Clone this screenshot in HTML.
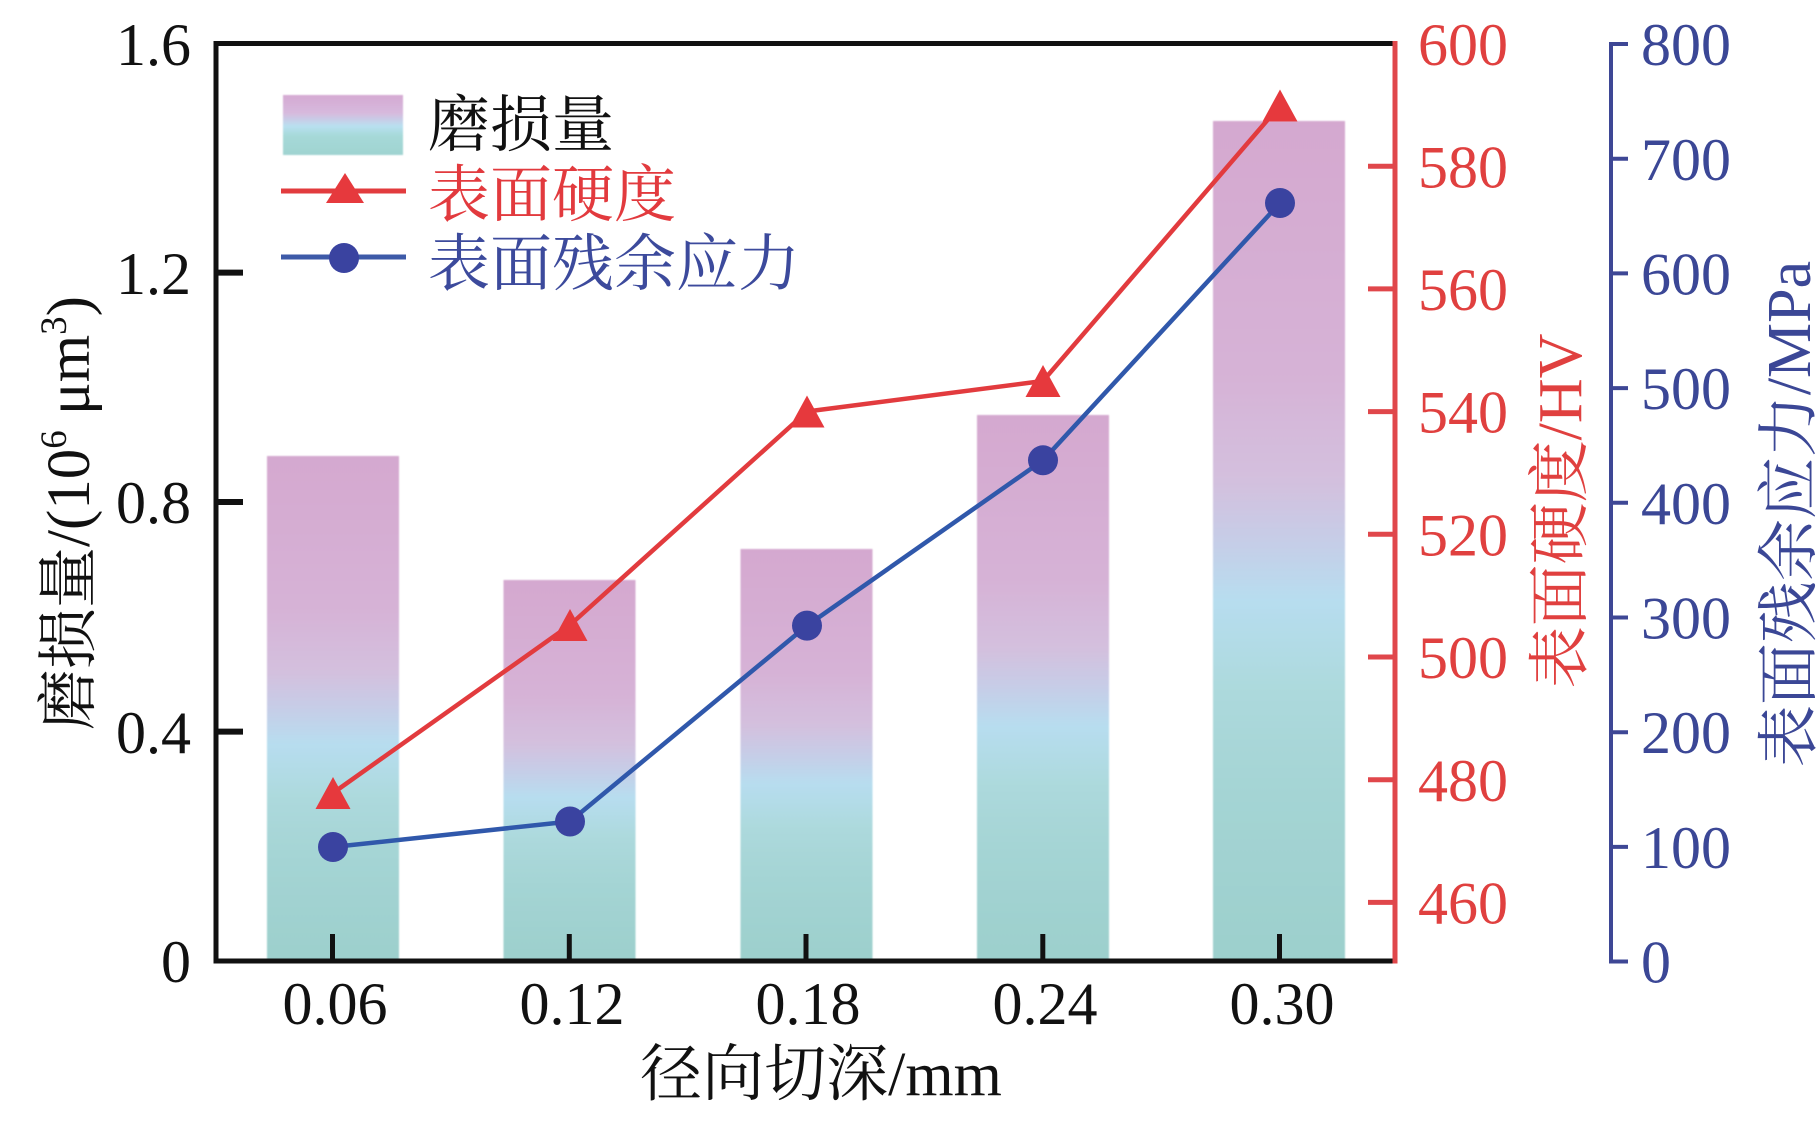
<!DOCTYPE html>
<html>
<head>
<meta charset="utf-8">
<style>
html,body{margin:0;padding:0;background:#fff;}
svg{display:block;}
text{font-family:"Liberation Serif","Noto Serif CJK SC",serif;}
</style>
</head>
<body>
<svg width="1819" height="1132" viewBox="0 0 1819 1132" xmlns="http://www.w3.org/2000/svg">
<defs>
<linearGradient id="bg" x1="0" y1="0" x2="0" y2="1">
<stop offset="0" stop-color="#d4a8cf"/>
<stop offset="0.3" stop-color="#d6b2d6"/>
<stop offset="0.43" stop-color="#d3c0de"/>
<stop offset="0.5" stop-color="#c6cde7"/>
<stop offset="0.57" stop-color="#b7ddef"/>
<stop offset="0.68" stop-color="#acd9dc"/>
<stop offset="0.8" stop-color="#a4d4d4"/>
<stop offset="1" stop-color="#9ccfcc"/>
</linearGradient>
<linearGradient id="lg" x1="0" y1="0" x2="0" y2="1">
<stop offset="0" stop-color="#d4a9d2"/>
<stop offset="0.3" stop-color="#d7b9dd"/>
<stop offset="0.52" stop-color="#b9e0f0"/>
<stop offset="0.68" stop-color="#a6d9d8"/>
<stop offset="1" stop-color="#9fd3d0"/>
</linearGradient>
<filter id="soft" x="-5%" y="-5%" width="110%" height="110%"><feGaussianBlur stdDeviation="0.8"/></filter>
</defs>
<rect width="1819" height="1132" fill="#fff"/>

<!-- bars -->
<g filter="url(#soft)">
<rect x="267" y="456" width="132" height="505" fill="url(#bg)"/>
<rect x="503.5" y="580" width="132" height="381" fill="url(#bg)"/>
<rect x="740.5" y="549" width="132" height="412" fill="url(#bg)"/>
<rect x="977" y="415" width="132" height="546" fill="url(#bg)"/>
<rect x="1213" y="121" width="132" height="840" fill="url(#bg)"/>
</g>

<!-- frame -->
<line x1="216" y1="43.5" x2="1397" y2="43.5" stroke="#111" stroke-width="5"/>
<line x1="216" y1="41" x2="216" y2="963.5" stroke="#111" stroke-width="5"/>
<line x1="213.5" y1="961" x2="1397" y2="961" stroke="#111" stroke-width="5"/>
<line x1="1395" y1="41" x2="1395" y2="963.5" stroke="#e0474b" stroke-width="5"/>

<!-- left ticks -->
<g stroke="#111" stroke-width="6">
<line x1="216" y1="272.6" x2="243" y2="272.6"/>
<line x1="216" y1="502" x2="243" y2="502"/>
<line x1="216" y1="731.6" x2="243" y2="731.6"/>
</g>
<!-- bottom ticks -->
<g stroke="#111" stroke-width="5">
<line x1="332.5" y1="961" x2="332.5" y2="934"/>
<line x1="569.3" y1="961" x2="569.3" y2="934"/>
<line x1="806" y1="961" x2="806" y2="934"/>
<line x1="1042.8" y1="961" x2="1042.8" y2="934"/>
<line x1="1279.5" y1="961" x2="1279.5" y2="934"/>
</g>
<!-- red ticks -->
<g stroke="#e0474b" stroke-width="5">
<line x1="1395" y1="166.2" x2="1368" y2="166.2"/>
<line x1="1395" y1="288.9" x2="1368" y2="288.9"/>
<line x1="1395" y1="411.6" x2="1368" y2="411.6"/>
<line x1="1395" y1="534.3" x2="1368" y2="534.3"/>
<line x1="1395" y1="657" x2="1368" y2="657"/>
<line x1="1395" y1="779.7" x2="1368" y2="779.7"/>
<line x1="1395" y1="902.4" x2="1368" y2="902.4"/>
</g>

<!-- blue axis -->
<g stroke="#3e4795" stroke-width="4">
<line x1="1611" y1="43.5" x2="1611" y2="961.5"/>
<line x1="1609" y1="44" x2="1628" y2="44"/>
<line x1="1611" y1="158.7" x2="1628" y2="158.7"/>
<line x1="1611" y1="273.4" x2="1628" y2="273.4"/>
<line x1="1611" y1="388.1" x2="1628" y2="388.1"/>
<line x1="1611" y1="502.8" x2="1628" y2="502.8"/>
<line x1="1611" y1="617.5" x2="1628" y2="617.5"/>
<line x1="1611" y1="732.2" x2="1628" y2="732.2"/>
<line x1="1611" y1="846.9" x2="1628" y2="846.9"/>
<line x1="1609" y1="961.5" x2="1628" y2="961.5"/>
</g>

<!-- left tick labels -->
<g font-size="60" fill="#111" text-anchor="end">
<text x="191" y="65">1.6</text>
<text x="191" y="294">1.2</text>
<text x="191" y="523">0.8</text>
<text x="191" y="753">0.4</text>
<text x="191" y="982">0</text>
</g>
<!-- x tick labels -->
<g font-size="60" fill="#111" text-anchor="middle">
<text x="335" y="1024">0.06</text>
<text x="572" y="1024">0.12</text>
<text x="808" y="1024">0.18</text>
<text x="1045" y="1024">0.24</text>
<text x="1282" y="1024">0.30</text>
</g>
<!-- red labels -->
<g font-size="60" fill="#e0403f">
<text x="1418" y="65">600</text>
<text x="1418" y="187.5">580</text>
<text x="1418" y="310">560</text>
<text x="1418" y="432.5">540</text>
<text x="1418" y="555.5">520</text>
<text x="1418" y="678">500</text>
<text x="1418" y="801">480</text>
<text x="1418" y="923.5">460</text>
</g>
<!-- blue labels -->
<g font-size="60" fill="#3b4796">
<text x="1641" y="65">800</text>
<text x="1641" y="180">700</text>
<text x="1641" y="294.5">600</text>
<text x="1641" y="409">500</text>
<text x="1641" y="524">400</text>
<text x="1641" y="638.5">300</text>
<text x="1641" y="753">200</text>
<text x="1641" y="868">100</text>
<text x="1641" y="982.5">0</text>
</g>

<!-- series lines -->
<polyline points="333,793 570,625 807,411.5 1043,381 1280,105.5" fill="none" stroke="#e23b3e" stroke-width="4.5" stroke-linejoin="round"/>
<polyline points="333,847 570,821.5 807,625.6 1043,460.3 1280,203" fill="none" stroke="#3058ab" stroke-width="4.5" stroke-linejoin="round"/>

<!-- red triangles -->
<g fill="#e6393d">
<polygon points="333,777 350.5,809 315.5,809"/>
<polygon points="570,609 587.5,641 552.5,641"/>
<polygon points="807,395.5 824.5,427.5 789.5,427.5"/>
<polygon points="1043,365 1060.5,397 1025.5,397"/>
<polygon points="1280,89.5 1297.5,121.5 1262.5,121.5"/>
</g>
<!-- blue circles -->
<g fill="#3a43a0">
<circle cx="333" cy="847" r="15"/>
<circle cx="570" cy="821.5" r="15"/>
<circle cx="807" cy="625.6" r="15"/>
<circle cx="1043" cy="460.3" r="15"/>
<circle cx="1280" cy="203" r="15"/>
</g>

<!-- legend -->
<rect x="283" y="95" width="120" height="60" fill="url(#lg)" filter="url(#soft)"/>
<line x1="281" y1="191" x2="406" y2="191" stroke="#e23b3e" stroke-width="5"/>
<polygon points="345,173 364,203 326,203" fill="#e6393d"/>
<line x1="281" y1="257" x2="406" y2="257" stroke="#3d5aa8" stroke-width="5"/>
<circle cx="344" cy="258" r="15" fill="#3a43a0"/>
<text x="428" y="146" font-size="62" fill="#111">磨损量</text>
<text x="428" y="216" font-size="62" fill="#e23a3e">表面硬度</text>
<text x="428" y="285" font-size="62" fill="#3c4a9c">表面残余应力</text>

<!-- axis titles -->
<text x="821" y="1095" font-size="62" fill="#111" text-anchor="middle">径向切深/mm</text>
<text transform="translate(89,513) rotate(-90)" font-size="61" fill="#111" text-anchor="middle">磨损量/(10<tspan font-size="37" dy="-23">6</tspan><tspan dy="23"> μm</tspan><tspan font-size="37" dy="-23">3</tspan><tspan dy="23">)</tspan></text>
<text transform="translate(1581,511) rotate(-90)" font-size="62" fill="#e0403f" text-anchor="middle">表面硬度/HV</text>
<text transform="translate(1810,514) rotate(-90)" font-size="62" fill="#3b4796" text-anchor="middle">表面残余应力/MPa</text>
</svg>
</body>
</html>
